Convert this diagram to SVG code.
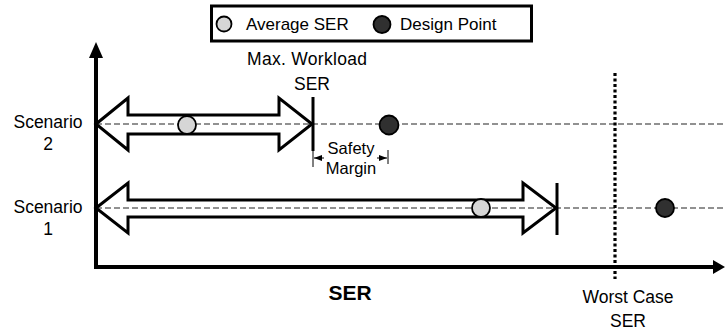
<svg xmlns="http://www.w3.org/2000/svg" width="725" height="331" viewBox="0 0 725 331">
<style>
text{font-family:"Liberation Sans",Arial,sans-serif;fill:#000}
.lbl{font-size:17.5px}
.sm{font-size:16.5px}
.dash{stroke:#6e6e6e;stroke-width:1.5;stroke-dasharray:6,3;fill:none}
.dbl{fill:none;stroke:#000;stroke-width:3;stroke-linejoin:miter}
.avg{fill:#d6d6d6;stroke:#000;stroke-width:1.8}
.dp{fill:#303030;stroke:#000;stroke-width:1.8}
.bar{stroke:#000;stroke-width:3}
.thin{stroke:#000;stroke-width:1}
</style>
<defs>
<marker id="sm" markerWidth="8" markerHeight="6" refX="8" refY="3" orient="auto" markerUnits="userSpaceOnUse">
<path d="M0,0 L8,3 L0,6 Z" fill="#000"/>
</marker>
</defs>
<g id="legend">
<rect x="211.5" y="6" width="320" height="35" fill="#fff" stroke="#000" stroke-width="3"/>
<circle class="avg" cx="224" cy="24" r="7.5"/>
<text x="246" y="30" style="font-size:17px">Average SER</text>
<circle class="dp" cx="382" cy="24.5" r="8.5"/>
<text x="400" y="30" style="font-size:17px">Design Point</text>
</g>
<g id="connectors">
<line class="dash" x1="96" y1="124" x2="725" y2="124"/>
<line class="dash" x1="96" y1="208" x2="725" y2="208"/>
<line x1="615" y1="73" x2="615" y2="279" stroke="#000" stroke-width="3.2" stroke-dasharray="3,2.5"/>
<line x1="96" y1="267" x2="713" y2="267" stroke="#000" stroke-width="4"/>
<path d="M713,260 L725,267 L713,274 Z" fill="#000"/>
<line x1="96" y1="269" x2="96" y2="56" stroke="#000" stroke-width="4"/>
<path d="M89,58 L96,42 L103,58 Z" fill="#000"/>
<line class="thin" x1="313" y1="150" x2="313" y2="167"/>
<line class="thin" x1="388" y1="150" x2="388" y2="164"/>
<line class="thin" x1="324" y1="158" x2="314" y2="158" marker-end="url(#sm)"/>
<line class="thin" x1="377" y1="158" x2="387" y2="158" marker-end="url(#sm)"/>
</g>
<g id="scenario2">
<path class="dbl" d="M96,124 L128,98 L128,115 L279,115 L279,98 L312,124 L279,150 L279,134 L128,134 L128,150 Z"/>
<line class="bar" x1="313" y1="97" x2="313" y2="151"/>
<circle class="avg" cx="187" cy="125" r="9"/>
<circle class="dp" cx="389" cy="125" r="9.5"/>
<text class="lbl" x="48" y="128" text-anchor="middle">Scenario</text>
<text class="lbl" x="48" y="150" text-anchor="middle">2</text>
</g>
<g id="scenario1">
<path class="dbl" d="M96,208 L128,183 L128,200 L523,200 L523,183 L556,208 L523,233 L523,217 L128,217 L128,233 Z"/>
<line class="bar" x1="557" y1="183" x2="557" y2="235"/>
<circle class="avg" cx="481" cy="208" r="9"/>
<circle class="dp" cx="665" cy="208" r="9"/>
<text class="lbl" x="48" y="213" text-anchor="middle">Scenario</text>
<text class="lbl" x="48" y="235" text-anchor="middle">1</text>
</g>
<g id="labels">
<text class="lbl" x="307" y="65" text-anchor="middle" textLength="120">Max. Workload</text>
<text class="lbl" x="312" y="90" text-anchor="middle">SER</text>
<text class="sm" x="351" y="154" text-anchor="middle">Safety</text>
<text class="sm" x="351" y="174" text-anchor="middle">Margin</text>
<text x="350" y="300" text-anchor="middle" style="font-size:21px;font-weight:bold">SER</text>
<text class="lbl" x="628" y="303" text-anchor="middle">Worst Case</text>
<text class="lbl" x="628" y="327" text-anchor="middle">SER</text>
</g>
</svg>
